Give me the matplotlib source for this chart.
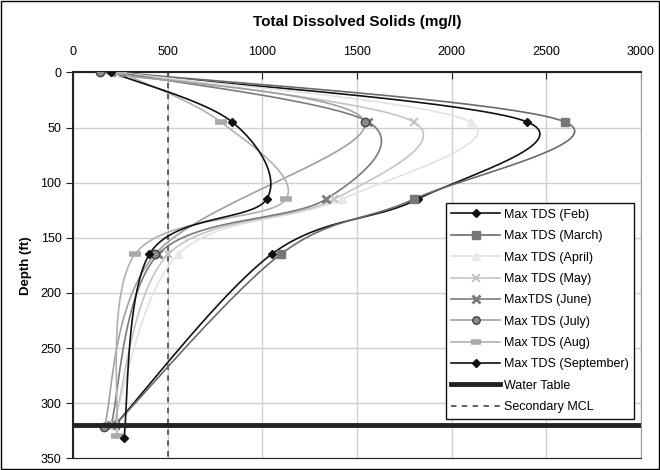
import numpy as np
import matplotlib.pyplot as plt
from matplotlib.patches import Rectangle

plt.rcParams['font.family'] = ['Liberation Sans', 'DejaVu Sans']

# TDS (mg/l) at each sampled depth (ft)
depth_std = [0, 45, 115, 165, 320]
feb = [200, 2400, 1820, 1048, 220]
march = [250, 2600, 1800, 1096, 220]
april = [230, 2100, 1420, 555, 210]
may = [230, 1800, 1380, 502, 215]
june = [230, 1560, 1336, 449, 200]
july_depth = [0, 45, 165, 322]
july = [140, 1540, 432, 164]
aug_depth = [0, 45, 115, 165, 330]
aug = [250, 780, 1124, 326, 229]
sept_depth = [0, 45, 115, 165, 332]
sept = [200, 840, 1022, 402, 268]

water_table = 320
secondary_mcl = 500


def smooth(x, y, n=40):
    # catmull-rom curve through the points (like excel's smoothed line)
    p = np.column_stack([x, y]).astype(float)
    p = np.vstack([p[0], p, p[-1]])
    out = []
    t = np.linspace(0, 1, n)[:, None]
    for i in range(1, len(p) - 2):
        p0, p1, p2, p3 = p[i - 1], p[i], p[i + 1], p[i + 2]
        c = 0.5 * ((2 * p1) + (-p0 + p2) * t + (2 * p0 - 5 * p1 + 4 * p2 - p3) * t ** 2
                   + (-p0 + 3 * p1 - 3 * p2 + p3) * t ** 3)
        out.append(c)
    c = np.vstack(out)
    return c[:, 0], c[:, 1]


fig = plt.figure(figsize=(6.6, 4.7), dpi=100)
ax = fig.add_axes([0.111, 0.025, 0.86, 0.821])

series = [
    ("Max TDS (Feb)", feb, depth_std, dict(color="#111111", marker="D", ms=4.5, mfc="#111111", mec="#111111")),
    ("Max TDS (March)", march, depth_std, dict(color="#6a6a6a", marker="s", ms=6, mfc="#777777", mec="#777777")),
    ("Max TDS (April)", april, depth_std, dict(color="#e2e2e2", marker="^", ms=6, mfc="#e8e8e8", mec="#e8e8e8")),
    ("Max TDS (May)", may, depth_std, dict(color="#c4c4c4", marker="x", ms=6, mfc="#c4c4c4", mec="#c4c4c4", mew=1.5)),
    ("MaxTDS (June)", june, depth_std, dict(color="#7a7a7a", marker="x", ms=6, mfc="#7a7a7a", mec="#7a7a7a", mew=2)),
    ("Max TDS (July)", july, july_depth, dict(color="#a0a0a0", marker="o", ms=6, mfc="#8c8c8c", mec="#444444", mew=1)),
    ("Max TDS (Aug)", aug, aug_depth, dict(color="#b0b0b0", marker="_", ms=8, mfc="#aaaaaa", mec="#aaaaaa", mew=4)),
    ("Max TDS (September)", sept, sept_depth, dict(color="#111111", marker="D", ms=4.5, mfc="#111111", mec="#111111")),
]

handles = []
for label, vals, dep, st in series:
    sx, sy = smooth(vals, dep)
    ax.plot(sx, sy, color=st["color"], lw=1.2, zorder=3)
    ax.plot(vals, dep, ls="none", marker=st["marker"], ms=st["ms"], mfc=st["mfc"],
            mec=st["mec"], mew=st.get("mew", 1), zorder=4)
    h, = ax.plot([], [], color=st["color"], lw=1.2, marker=st["marker"], ms=st["ms"] * 0.9,
                 mfc=st["mfc"], mec=st["mec"], mew=st.get("mew", 1), label=label)
    handles.append(h)

wt = ax.axhline(water_table, color="#222222", lw=3.5, zorder=5, label="Water Table")
mcl, = ax.plot([secondary_mcl, secondary_mcl], [0, 350], color="#555555", lw=1.3,
               ls=(0, (3, 3)), zorder=2, label="Secondary MCL")
handles += [wt, mcl]

ax.set_xlim(0, 3000)
ax.set_ylim(350, 0)
ax.set_xticks(np.arange(0, 3001, 500))
ax.set_yticks(np.arange(0, 351, 50))
ax.xaxis.tick_top()
ax.xaxis.set_label_position("top")
ax.tick_params(axis="x", direction="in", length=5, labelsize=9, pad=10, color="#222222")
ax.tick_params(axis="y", direction="out", length=5, labelsize=9, color="#222222")
ax.grid(True, color="#cfcfcf", lw=1)
ax.set_axisbelow(True)
ax.spines["top"].set_color("#222222")
ax.spines["top"].set_linewidth(1.5)
ax.spines["left"].set_color("#222222")
ax.spines["left"].set_linewidth(1.5)
ax.spines["right"].set_color("#999999")
ax.spines["bottom"].set_color("#222222")

ax.set_xlabel("Total Dissolved Solids (mg/l)", fontsize=11, fontweight="bold", labelpad=15)
ax.set_ylabel("Depth (ft)", fontsize=9.5, fontweight="bold", labelpad=6)

leg = ax.legend(handles=handles, loc="upper left", bbox_to_anchor=(0.656, 0.661),
                fontsize=9, frameon=True, fancybox=False, framealpha=1,
                edgecolor="#111111", handlelength=3.9, handletextpad=0.3,
                labelspacing=0.75, borderpad=0.45, borderaxespad=0, numpoints=1)
leg.get_frame().set_linewidth(1)
leg.set_zorder(10)

fig.patches.append(Rectangle((0.002, 0.002), 0.996, 0.996, transform=fig.transFigure,
                             fill=False, edgecolor="black", lw=1))

plt.savefig("out.png", dpi=100)
